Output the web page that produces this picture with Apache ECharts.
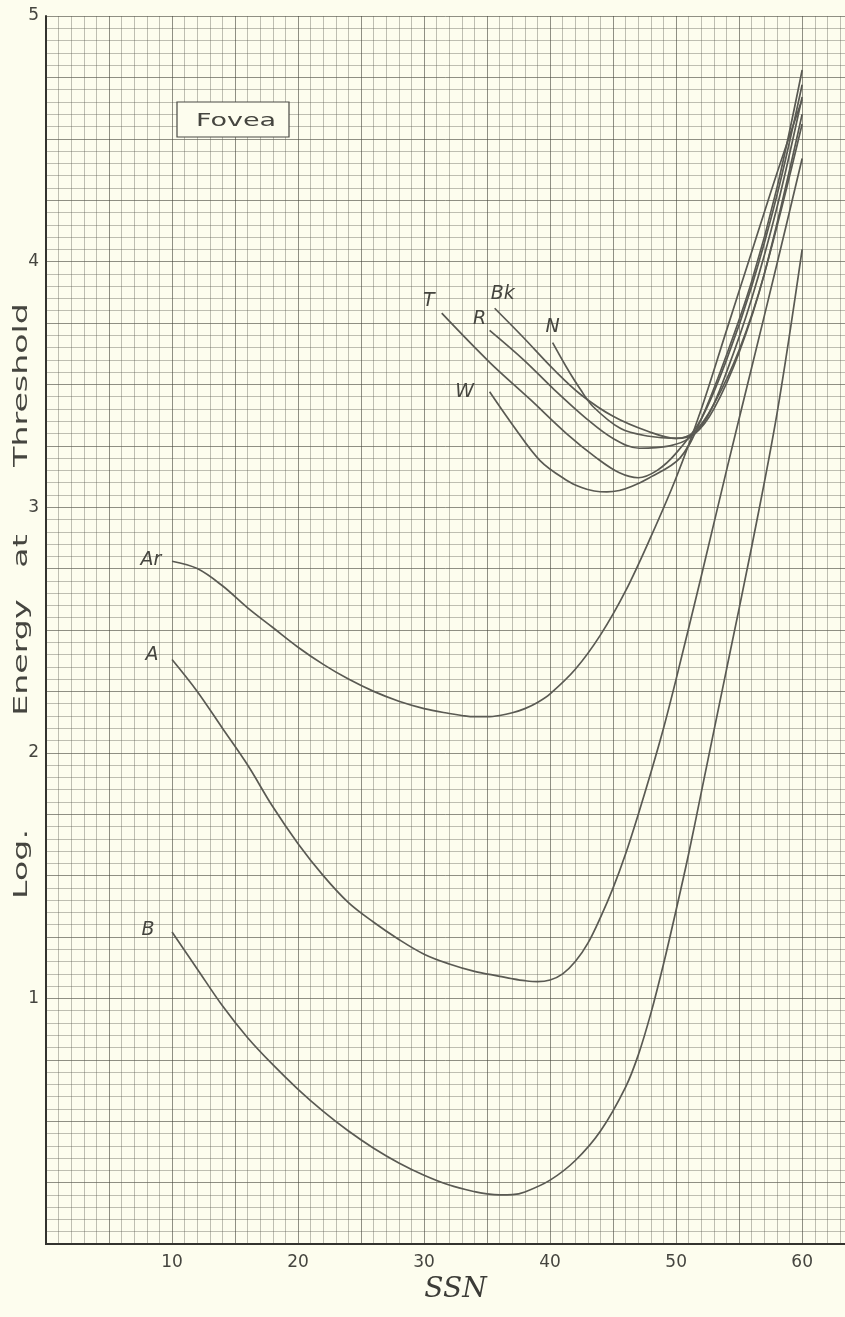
<!DOCTYPE html>
<html>
<head>
<meta charset="utf-8">
<title>Fovea threshold energy vs SSN</title>
<script src="https://cdn.jsdelivr.net/npm/echarts@6/dist/echarts.min.js"></script>
<style>
  html, body { margin: 0; padding: 0; background: #fdfdee; }
  #chart { width: 845px; height: 1317px; }
</style>
</head>
<body>
<div id="chart"></div>
<script>
// Log. energy at threshold against SSN, foveal readings.
// Each curve is a list of [SSN, log energy] pairs.
const curveB  = [[10,1.27],[12,1.12],[14,0.97],[16,0.84],[18,0.73],[20,0.63],[22,0.54],[24,0.46],[26,0.39],[28,0.33],[30,0.28],[32,0.24],[34,0.213],[35,0.204],[36,0.2],[37,0.201],[38,0.212],[40,0.26],[42,0.34],[44,0.46],[46,0.64],[47,0.77],[48,0.94],[49,1.14],[50,1.36],[51,1.59],[52,1.84],[54,2.34],[56,2.84],[58,3.38],[60,4.05]];
const curveA  = [[10,2.38],[12,2.25],[14,2.1],[16,1.95],[18,1.78],[20,1.63],[22,1.5],[24,1.39],[26,1.31],[28,1.24],[30,1.18],[32,1.14],[34,1.11],[36,1.09],[37,1.08],[38,1.072],[39,1.068],[40,1.075],[41,1.1],[42,1.15],[43,1.225],[44,1.33],[45,1.45],[46,1.59],[47,1.75],[48,1.92],[49,2.1],[50,2.3],[52,2.72],[54,3.15],[56,3.57],[58,3.99],[60,4.42]];
const curveAr = [[10,2.78],[12,2.75],[14,2.68],[16,2.59],[18,2.51],[20,2.43],[22,2.36],[24,2.3],[26,2.25],[28,2.21],[30,2.18],[32,2.16],[33,2.152],[34,2.147],[35,2.147],[36,2.152],[37,2.163],[38,2.18],[39,2.205],[40,2.24],[42,2.34],[44,2.48],[46,2.66],[48,2.88],[50,3.12],[52,3.4],[54,3.72],[56,4.04],[58,4.36],[60,4.66]];
const curveT  = [[31.4,3.79],[35.2,3.59],[38.4,3.44],[41.3,3.3],[43.7,3.2],[45.5,3.14],[47,3.12],[48.5,3.15],[50,3.22],[52,3.36],[54,3.6],[56,3.9],[58,4.27],[60,4.72]];
const curveR  = [[35.2,3.72],[37.9,3.6],[40.3,3.48],[42.9,3.36],[45,3.28],[47.1,3.24],[49.5,3.25],[51,3.28],[52.5,3.37],[54,3.55],[56,3.85],[58,4.22],[60,4.67]];
const curveBk = [[35.6,3.81],[37.9,3.69],[40.3,3.56],[42.4,3.46],[45,3.37],[47.7,3.31],[50,3.28],[51.5,3.3],[53,3.4],[55,3.63],[57,3.95],[60,4.6]];
const curveN  = [[40.2,3.67],[41.3,3.57],[42.4,3.48],[43.4,3.41],[45.6,3.32],[47.7,3.29],[50,3.28],[51.5,3.31],[53,3.42],[55,3.64],[57,3.95],[60,4.56]];
const curveW  = [[35.2,3.47],[37.1,3.33],[39.2,3.19],[41.3,3.11],[42.5,3.08],[43.5,3.066],[44.5,3.062],[45.5,3.068],[46.5,3.085],[47.7,3.115],[50.3,3.2],[52,3.36],[54,3.62],[56,3.92],[58,4.3],[60,4.78]];

// Curve names and where each name sits relative to the curve's first point (px).
const curveNames   = ['B', 'A', 'Ar', 'T', 'R', 'Bk', 'N', 'W'];
const curveData    = [curveB, curveA, curveAr, curveT, curveR, curveBk, curveN, curveW];
const nameOffsets  = [[-24,-2],[-20,-4],[-21,-1],[-13,-12],[-10,-11],[8,-14],[0,-16],[-25,0]];

const xTickLabels = [10, 20, 30, 40, 50, 60];
const yTickLabels = [1, 2, 3, 4, 5];

const TEXT = '#45453f';
const GRID_MINOR = 'rgba(95,95,85,0.4)';
const GRID_MAJOR = 'rgba(70,70,60,0.6)';
const cycle = [GRID_MAJOR, GRID_MINOR, GRID_MINOR, GRID_MINOR, GRID_MINOR];

const chart = echarts.init(document.getElementById('chart'), null, { renderer: 'canvas' });

const series = curveData.map((pts, i) => ({
  type: 'line',
  name: curveNames[i],
  smooth: 0.35,
  showSymbol: true,
  symbol: 'circle',
  symbolSize: 0,
  silent: true,
  lineStyle: { color: '#5a5a53', width: 1.7 },
  itemStyle: { color: '#5a5a53' },
  label: { show: false },
  data: pts.map((p, j) => j === 0 ? {
    value: p,
    label: {
      show: true,
      formatter: curveNames[i],
      position: nameOffsets[i],
      align: 'center',
      verticalAlign: 'middle',
      fontFamily: 'DejaVu Sans',
      fontStyle: 'italic',
      fontSize: 19,
      color: TEXT
    }
  } : p)
}));

chart.setOption({
  backgroundColor: '#fdfdee',
  animation: false,
  grid: { left: 46, right: 0, top: 16, bottom: 73, containLabel: false },
  xAxis: [{
    type: 'value',
    min: 0,
    max: 63.4,
    interval: 1,
    axisLine: { show: true, onZero: false, lineStyle: { color: '#33332e', width: 2 } },
    axisTick: { show: false },
    splitLine: { show: true, lineStyle: { color: cycle, width: 1 } },
    axisLabel: {
      margin: 10,
      fontFamily: 'DejaVu Sans',
      fontSize: 17,
      color: TEXT,
      showMaxLabel: false,
      formatter: v => xTickLabels.indexOf(Math.round(v)) >= 0 && Math.abs(v - Math.round(v)) < 1e-6 ? String(Math.round(v)) : ''
    },
    name: 'SSN',
    nameLocation: 'middle',
    nameGap: 31,
    nameTextStyle: {
      fontFamily: 'DejaVu Serif',
      fontStyle: 'italic',
      fontSize: 28,
      color: '#3c3c37',
      padding: [0, 0, 0, 20]
    }
  }, {
    type: 'value',
    position: 'top',
    min: 0,
    max: 63.4,
    axisLine: { show: true, lineStyle: { color: '#33332e', width: 2 } },
    axisTick: { show: false },
    axisLabel: { show: false },
    splitLine: { show: false }
  }],
  yAxis: {
    type: 'value',
    min: 0,
    max: 5,
    interval: 0.05,
    axisLine: { show: true, onZero: false, lineStyle: { color: '#33332e', width: 2 } },
    axisTick: { show: false },
    splitLine: { show: true, lineStyle: { color: cycle, width: 1 } },
    axisLabel: {
      margin: 7,
      fontFamily: 'DejaVu Sans',
      fontSize: 17,
      color: TEXT,
      formatter: v => {
        const r = Math.round(v);
        return Math.abs(v - r) < 1e-6 && yTickLabels.indexOf(r) >= 0 ? String(r) : '';
      }
    }
  },
  series: series,
  graphic: [
    // "Fovea" panel
    {
      type: 'rect',
      shape: { x: 177, y: 102, width: 112, height: 35 },
      style: { fill: '#fdfdee', stroke: '#4a4a44', lineWidth: 1.2 },
      z: 10
    },
    {
      type: 'text',
      x: 236, y: 121,
      scaleX: 1.5,
      style: {
        text: 'Fovea', fontFamily: 'DejaVu Sans', fontSize: 18,
        fill: TEXT, align: 'center', verticalAlign: 'middle'
      },
      z: 11
    },
    // vertical axis title, split around the tick numbers
    {
      type: 'text', x: 22, y: 864, rotation: Math.PI / 2, scaleX: 1.75,
      style: { text: 'Log.', fontFamily: 'DejaVu Sans', fontSize: 19, fill: TEXT, align: 'center', verticalAlign: 'middle' }
    },
    {
      type: 'text', x: 22, y: 625, rotation: Math.PI / 2, scaleX: 1.75,
      style: { text: 'Energy   at', fontFamily: 'DejaVu Sans', fontSize: 19, fill: TEXT, align: 'center', verticalAlign: 'middle' }
    },
    {
      type: 'text', x: 22, y: 385, rotation: Math.PI / 2, scaleX: 1.75,
      style: { text: 'Threshold', fontFamily: 'DejaVu Sans', fontSize: 19, fill: TEXT, align: 'center', verticalAlign: 'middle' }
    }
  ]
});
</script>
</body>
</html>
